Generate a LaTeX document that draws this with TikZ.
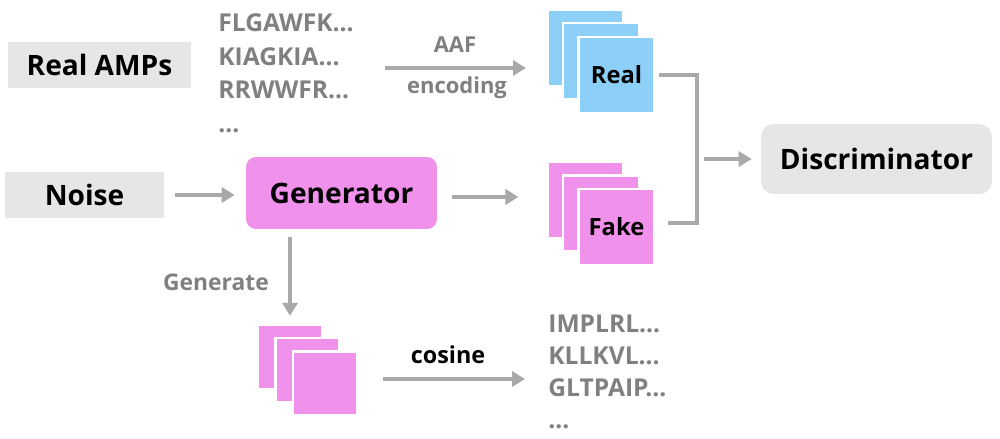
\documentclass[tikz,border=0pt]{standalone}
\usepackage{fontspec}
\setmainfont{Open Sans}
\usetikzlibrary{arrows.meta}
\definecolor{boxgray}{RGB}{230,230,230}
\definecolor{linegray}{RGB}{170,168,168}
\definecolor{seqgray}{RGB}{128,128,128}
\definecolor{pinkfill}{RGB}{240,146,236}
\definecolor{bluefill}{RGB}{140,207,247}

\begin{document}
\begin{tikzpicture}[x=0.02cm,y=-0.02cm,
  lbl/.style={font=\bfseries\fontsize{16}{19}\selectfont},
  graybox/.style={lbl,fill=boxgray,inner sep=0pt},
  arr/.style={linegray,line width=0.08cm,-{Triangle[length=0.26cm,width=0.3cm]}},
  link/.style={linegray,line width=0.08cm},
  sq/.style={draw=white,line width=1.2pt,inner sep=0pt,minimum size=1.52cm},
  seq/.style={seqgray,font=\bfseries\fontsize{14}{19.3}\selectfont,align=left,anchor=north west,inner sep=0pt},
  note/.style={seqgray,font=\bfseries\fontsize{12.5}{15}\selectfont,inner sep=0pt}]
\useasboundingbox (0,0) rectangle (1000,439);

% input boxes
\node[graybox,minimum width=3.66cm,minimum height=0.92cm] (amps) at (99.5,65) {Real AMPs};
\node[graybox,minimum width=3.18cm,minimum height=0.92cm] (noise) at (84.5,195) {Noise};
\node[lbl,fill=pinkfill,rounded corners=0.2cm,minimum width=3.82cm,minimum height=1.44cm] (gen) at (341.5,193) {Generator};
\node[lbl,fill=boxgray,rounded corners=0.25cm,minimum width=4.62cm,minimum height=1.4cm] (disc) at (876.5,159) {Discriminator};

% sequences
\node[seq] (seqA) at (218,13) {FLGAWFK...\\KIAGKIA...\\RRWWFR...\\...};
\node[seq,font=\bfseries\fontsize{14}{18.2}\selectfont] (seqB) at (548,315) {IMPLRL...\\KLLKVL...\\GLTPAIP...\\...};

% stacks
\foreach \i in {2,1}
  \node[sq,fill=bluefill] (r\i) at ({616.5-15.5*\i},{75-13.7*\i}) {};
\node[sq,fill=bluefill,font=\bfseries\fontsize{13.5}{16}\selectfont] (r0) at (616.5,75) {Real};
\foreach \i in {2,1}
  \node[sq,fill=pinkfill] (f\i) at ({616.5-15.5*\i},{227-13.5*\i}) {};
\node[sq,fill=pinkfill,font=\bfseries\fontsize{13.5}{16}\selectfont] (f0) at (616.5,227) {Fake};
\foreach \i in {2,1,0}
  \node[sq,fill=pinkfill,minimum size=1.28cm] (s\i) at ({325-17.5*\i},{383.5-13.3*\i}) {};

% labels
\node[note] (aaf) at (455,45) {AAF};
\node[note] (enc) at (457,88) {encoding};
\node[note,font=\bfseries\fontsize{13}{15}\selectfont] (genlbl) at (216,282) {Generate};
\node[font=\bfseries\fontsize{13.3}{15}\selectfont,inner sep=0pt] (cos) at (448,355) {cosine};

% arrows
\coordinate (aafS) at (385,68);
\coordinate (aafE) at (526,68);
\coordinate (jn) at (697,159);
\draw[arr] (aafS) -- (aafE);
\draw[arr] ([xshift=0.22cm]noise.east) -- ([xshift=-0.22cm]gen.west |- noise.east);
\draw[arr] ([xshift=0.3cm,yshift=-0.08cm]gen.east) -- ([xshift=-0.56cm,yshift=-0.08cm]gen.east -| f2.west);
\draw[arr] ([yshift=-0.16cm]gen.south -| s2.north) -- ([yshift=0.16cm]s2.north);
\draw[arr] ([xshift=0.5cm,yshift=0.09cm]s0.east) -- ([xshift=-0.46cm,yshift=0.09cm]s0.east -| seqB.west);
\draw[link] ([xshift=0.06cm]r0.east) -| (jn);
\draw[link] ([xshift=0.25cm,yshift=0.08cm]f0.east) -| (jn);
\draw[arr] ([xshift=0.14cm]jn) -- ([xshift=-0.18cm]disc.west);
\end{tikzpicture}
\end{document}
